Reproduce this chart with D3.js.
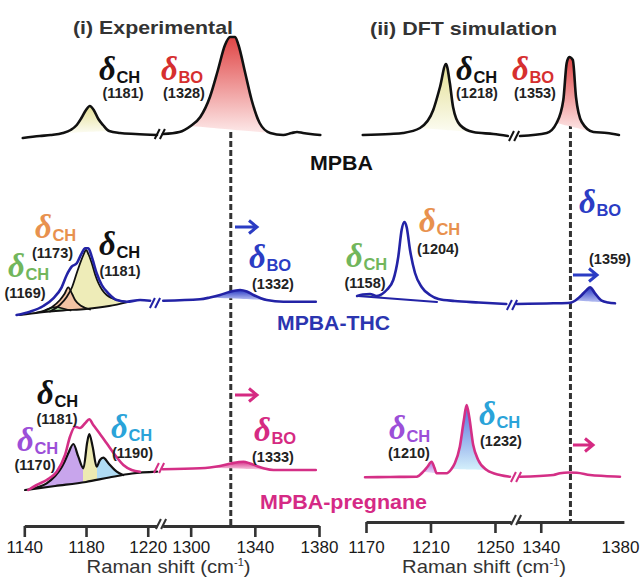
<!DOCTYPE html>
<html><head><meta charset="utf-8">
<script src="https://cdn.jsdelivr.net/npm/d3@7"></script>
<style>body{margin:0;background:#fff}svg{display:block}</style>
</head><body>
<svg id="c" width="640" height="581"></svg>
<script>
// ================= DATA =================
const leftTicksLow = [1140, 1180, 1220];
const leftTicksHigh = [1300, 1340, 1380];
const rightTicksLow = [1170, 1210, 1250];
const rightTicksHigh = [1340, 1380];
const markerExp = 1325;   // dashed reference line, experimental
const markerDft = 1355;   // dashed reference line, DFT

// spectra: [Raman shift (cm-1), intensity (a.u., relative to row baseline)]
// Row 1: MPBA
const mpbaExpLow = [[1139,-2],[1150,0],[1157,1],[1165,3],[1170,6],[1174,11],[1177,18],[1180,26],[1182.5,30],[1185,26],[1188,17],[1191,11],[1195,5],[1202,3],[1212,2],[1226,1]];
const mpbaExpHigh = [[1282.7,2],[1293,4],[1300,10],[1306,19],[1312,39],[1317,66],[1321.4,91],[1324.6,99],[1327.7,99],[1329.8,91],[1334,63],[1338,36],[1343,13],[1349.6,3],[1357.7,1],[1363,3],[1366.3,4],[1370,3],[1374.6,2],[1380.8,1]];
const mpbaDftLow = [[1168,1],[1185,2],[1193,3],[1203.5,8],[1211.7,26],[1215.9,49],[1219.6,72],[1222,53],[1224,29],[1228.3,11],[1236.5,4],[1249,2],[1258,0]];
const mpbaDftHigh = [[1329.5,0],[1343,3],[1348,13],[1351.4,36],[1353.1,73],[1354.4,79],[1356.2,76],[1357.8,39],[1360.7,14],[1366.6,4],[1373.4,3],[1379.5,1]];

// Row 2: MPBA-THC
const thcExpLow = [[1135,-13],[1143.7,-9.7],[1152.3,-4],[1158.8,3.7],[1164.2,14.7],[1167.5,27],[1170.7,35.3],[1174,38.7],[1177.2,48.7],[1179.4,53.7],[1181.5,53.7],[1183.7,45.3],[1186.9,28.7],[1190.2,17],[1194.5,8.7],[1199.9,2],[1206.4,0.3],[1215,2],[1221.5,1.3]];
const thcExpHigh = [[1282.9,1.3],[1305.8,2.7],[1312,4.5],[1318.3,7],[1324,10],[1330.8,12],[1335,10.5],[1339.1,7],[1347.4,2],[1357.8,0.3],[1378,0.3]];
const thcExpFitBase = [[1137,-13],[1150,-10.5],[1165,-8.5],[1180,-7],[1195,-4],[1207,0]];
const thcExpFit1169 = [[1148,-10.5],[1153,-8.5],[1157,-6],[1161,-5],[1165,-6.5],[1170,-8.5]];
const thcExpFit1173 = [[1152.3,-9.5],[1158,-5],[1163.1,2],[1166,8],[1168.5,14.7],[1171,8],[1172.9,2],[1177,-4],[1182.6,-7.5]];
const thcExpFit1181 = [[1156.7,-9.5],[1163,-3],[1167.5,5],[1171,15],[1174,29],[1176.5,40],[1178.3,47],[1180,52],[1181.8,47],[1183.7,39],[1186,27],[1188,19],[1190.5,12],[1193.4,7],[1196.5,4],[1199.9,2],[1206.4,0]];
const thcDftLow = [[1164.5,6],[1168,7.5],[1172.5,8],[1176.6,6],[1180,8],[1182.8,12],[1186.9,22],[1190,45],[1192.1,72],[1193.8,80],[1195.2,75],[1197.3,52],[1200.4,29],[1204.5,15],[1209.7,7],[1215,3],[1225,1],[1240,-0.5],[1257,-2]];
const thcDftFitBase = [[1165,6],[1214,0]];
const thcDftHigh = [[1328,-2],[1346.4,-1.3],[1354.8,-0.7],[1357.5,1.5],[1359.8,5.3],[1363.2,12],[1364.9,14.7],[1367.4,8.7],[1370.8,1.3],[1374,-0.5],[1377.5,-1.3]];

// Row 3: MPBA-pregnane
const pregExpLow = [[1142.6,-18],[1148,-13],[1154.5,-8],[1161,0.3],[1166.4,17],[1169.6,35.3],[1172.9,45.3],[1176.1,44],[1179.4,48.7],[1182.1,52.7],[1184.7,47],[1188,40.3],[1193.4,28.7],[1198.8,17],[1204.2,7],[1209.6,2],[1215,0.3]];
const pregExpFitBase = [[1140.5,-18],[1160,-14],[1180,-10],[1195,-5.5],[1210,-1.5],[1226,0.3]];
const pregExpFit = [[1145,-16.5],[1154.5,-11.3],[1160,-4],[1163.1,2],[1166,10],[1168.5,18.7],[1171.8,28],[1175,15.3],[1178.3,3.7],[1180.8,30],[1182.1,38],[1184.3,25.3],[1186.9,5.3],[1189,12],[1191.2,14.3],[1194.5,8.7],[1199.9,0.3],[1204,-3]];
const pregExpFitSplits = [1178.3, 1186.9];
const pregExpHigh = [[1282.6,2.7],[1305.8,3.7],[1312,4.5],[1318.3,6],[1325,8.5],[1332.9,10.3],[1337,8.5],[1341.2,6],[1346,3.5],[1351.6,2],[1378,2]];
const pregDftLow = [[1169.4,-5.3],[1185,-5],[1201.4,-4.7],[1205.5,0.3],[1208,5],[1210.7,10.3],[1212.5,4],[1213.8,-1.3],[1220,-1.3],[1223,3],[1225.1,8.7],[1228.2,25.3],[1230.7,52],[1232.4,67],[1234,55.3],[1236.5,27],[1239.6,12],[1244.9,2],[1253.1,-3],[1259.3,-4.7]];
const pregDftHigh = [[1329.5,-4.7],[1346.4,-3],[1349.7,-1.3],[1354,-0.5],[1358.2,-0.7],[1364.9,-3],[1372,-4],[1380,-4.7]];

const sampleNames = ["MPBA", "MPBA-THC", "MPBA-pregnane"];
const panelTitles = ["(i) Experimental", "(ii) DFT simulation"];
const axisTitle = "Raman shift (cm";

// annotations (text content)
const annotations = [
  {sub:"CH", num:"(1181)", c:"black"}, {sub:"BO", num:"(1328)", c:"red"},
  {sub:"CH", num:"(1218)", c:"black"}, {sub:"BO", num:"(1353)", c:"red"},
  {sub:"CH", num:"(1173)", c:"orange"}, {sub:"CH", num:"(1169)", c:"green"},
  {sub:"CH", num:"(1181)", c:"black"}, {sub:"BO", num:"(1332)", c:"blue"},
  {sub:"CH", num:"(1158)", c:"green"}, {sub:"CH", num:"(1204)", c:"orange"},
  {sub:"BO", num:"(1359)", c:"blue"},
  {sub:"CH", num:"(1181)", c:"black"}, {sub:"CH", num:"(1170)", c:"purple"},
  {sub:"CH", num:"(1190)", c:"cyan"}, {sub:"BO", num:"(1333)", c:"pink"},
  {sub:"CH", num:"(1210)", c:"purple"}, {sub:"CH", num:"(1232)", c:"cyan"}
];

// ================= LAYOUT / STYLE =================
const COL = {black:"#111", red:"#d62f2f", orange:"#e8914e", green:"#72b65c", blue:"#2b3cc4",
  purple:"#9c4fd8", cyan:"#2aa3d9", pink:"#d52a82", line:"#333"};
const BLUE_LINE = "#2323a6", PINK_LINE = "#d42f86";
const SANS = "'Liberation Sans', Arial, Helvetica, sans-serif";
const SERIF = "'Liberation Serif', 'Times New Roman', serif";
// annotation placement (pixels): delta left/baseline, number centre/baseline
const annoPos = [
  [99,80,123,98],[161,80,184,98],[456,80,477,98],[512,80,535,98],
  [35,238,52.5,258],[8,277,25,298],[99,255,120,276],[249,268,273,289],
  [346,267,365,288],[419,232,438,254],[579,213,610,264],
  [37,404,57,424],[17,451,35,470],[111,438,132.5,458],[254,441,273,462],
  [389,439,409,458],[479,425,501,446]
];
const rowBase = [136, 302, 472];

const svg = d3.select("#c");
const defs = svg.append("defs");
function vgrad(id, top, bottom){
  const g = defs.append("linearGradient").attr("id", id).attr("x1",0).attr("y1",0).attr("x2",0).attr("y2",1);
  g.append("stop").attr("offset","0%").attr("stop-color", top);
  g.append("stop").attr("offset","100%").attr("stop-color", bottom);
}
vgrad("gYellow", "#e4df95", "#fcfcf2");
vgrad("gRed", "#e04545", "#fde9e9");
vgrad("gBlue", "#2a3bc6", "#bcc4f2");
vgrad("gPink", "#d8328a", "#f8d3e5");
vgrad("gPurple", "#b070e0", "#eadcf7");
vgrad("gCyan", "#5570dc", "#d4f0fb");
vgrad("gGreen", "#8fcc7f", "#e3f3dd");

// scales
const xL1 = d3.scaleLinear().domain([1140, 1226]).range([24.3, 157.0]);
const xL2 = d3.scaleLinear().domain([1282.5, 1380]).range([162.6, 319]);
const xR1 = d3.scaleLinear().domain([1170, 1260]).range([366, 511.1]);
const xR2 = d3.scaleLinear().domain([1328, 1382]).range([517, 623.9]);
const y = d3.scaleLinear().domain([0, 100]).range([0, -100]);

function interp(pts, w){
  if (w <= pts[0][0]) return pts[0][1];
  for (let i=1;i<pts.length;i++){
    if (w <= pts[i][0]){
      const [a,b]=[pts[i-1],pts[i]];
      return a[1] + (b[1]-a[1])*(w-a[0])/(b[0]-a[0]);
    }
  }
  return pts[pts.length-1][1];
}
function lineGen(x){ return d3.line().x(d=>x(d[0])).y(d=>y(d[1])).curve(d3.curveMonotoneX); }
function drawLine(g, x, pts, color, w){
  g.append("path").attr("d", lineGen(x)(pts)).attr("fill","none").attr("stroke",color)
   .attr("stroke-width",w).attr("stroke-linejoin","round").attr("stroke-linecap","round");
}
// fill between curve and a chord (or given base) within [lo,hi]
function fillUnder(g, x, pts, lo, hi, fill, base){
  const sub = pts.filter(d=>d[0]>=lo && d[0]<=hi);
  const a = sub[0], b = sub[sub.length-1];
  const chord = base || [a,b];
  const area = d3.area().x(d=>x(d[0])).y1(d=>y(d[1])).y0(d=>y(interp(chord,d[0]))).curve(d3.curveMonotoneX);
  g.append("path").attr("d", area(sub)).attr("fill", fill).attr("stroke","none");
}
function drawBreak(cx, cy, color){
  [-2.6, 2.6].forEach(o=>{
    svg.append("line").attr("x1",cx+o-2.5).attr("y1",cy+5).attr("x2",cx+o+2.5).attr("y2",cy-5)
      .attr("stroke",color).attr("stroke-width",2);
  });
}

// dashed reference lines
svg.append("line").attr("x1",xL2(markerExp)).attr("x2",xL2(markerExp)).attr("y1",60).attr("y2",526)
  .attr("stroke",COL.line).attr("stroke-width",3).attr("stroke-dasharray","6,3");
svg.append("line").attr("x1",xR2(markerDft)).attr("x2",xR2(markerDft)).attr("y1",60).attr("y2",522)
  .attr("stroke",COL.line).attr("stroke-width",3).attr("stroke-dasharray","6,3");

// ---------- Row 1 ----------
let g = svg.append("g").attr("transform",`translate(0,${rowBase[0]})`);
fillUnder(g, xL1, mpbaExpLow, 1165, 1200, "url(#gYellow)");
fillUnder(g, xL2, mpbaExpHigh, 1300, 1350, "url(#gRed)");
fillUnder(g, xR1, mpbaDftLow, 1203, 1237, "url(#gYellow)");
fillUnder(g, xR2, mpbaDftHigh, 1346, 1367, "url(#gRed)");
drawLine(g, xL1, mpbaExpLow, COL.black, 2.6);
drawLine(g, xL2, mpbaExpHigh, COL.black, 2.6);
drawLine(g, xR1, mpbaDftLow, COL.black, 2.6);
drawLine(g, xR2, mpbaDftHigh, COL.black, 2.6);

// ---------- Row 2 ----------
g = svg.append("g").attr("transform",`translate(0,${rowBase[1]})`);
[[thcExpFit1181,"#eeecb8"],[thcExpFit1173,"#f2c3a4"],[thcExpFit1169,"#a8d79b"]].forEach(([pts,c])=>{
  fillUnder(g, xL1, pts, pts[0][0], pts[pts.length-1][0], c, thcExpFitBase);
});
drawLine(g, xL1, thcExpFitBase, COL.black, 1.8);
drawLine(g, xL1, thcExpFit1169, COL.black, 1.6);
drawLine(g, xL1, thcExpFit1173, COL.black, 1.8);
drawLine(g, xL1, thcExpFit1181, COL.black, 1.8);
drawLine(g, xL1, thcExpLow, BLUE_LINE, 2.6);
fillUnder(g, xL2, thcExpHigh, 1312, 1347.4, "url(#gBlue)");
drawLine(g, xL2, thcExpHigh, BLUE_LINE, 2.6);
fillUnder(g, xR1, thcDftLow, 1164.5, 1180, "url(#gGreen)", thcDftFitBase);
drawLine(g, xR1, thcDftFitBase, BLUE_LINE, 2.2);
drawLine(g, xR1, thcDftLow, BLUE_LINE, 2.6);
fillUnder(g, xR2, thcDftHigh, 1357.5, 1374, "url(#gBlue)");
drawLine(g, xR2, thcDftHigh, BLUE_LINE, 2.6);

// ---------- Row 3 ----------
g = svg.append("g").attr("transform",`translate(0,${rowBase[2]})`);
const hg = defs.append("linearGradient").attr("id","gComp").attr("gradientUnits","userSpaceOnUse")
  .attr("x1",xL1(1140)).attr("x2",xL1(1226)).attr("y1",0).attr("y2",0);
const s1 = (xL1(pregExpFitSplits[0])-xL1(1140))/(xL1(1226)-xL1(1140))*100;
const s2 = (xL1(pregExpFitSplits[1])-xL1(1140))/(xL1(1226)-xL1(1140))*100;
[[0,"#c8a5ec"],[s1,"#c8a5ec"],[s1,"#edeab2"],[s2,"#edeab2"],[s2,"#b0dcf4"],[100,"#b0dcf4"]].forEach(([o,c])=>{
  hg.append("stop").attr("offset",o+"%").attr("stop-color",c);
});
fillUnder(g, xL1, pregExpFit, 1145, 1204, "url(#gComp)", pregExpFitBase);
drawLine(g, xL1, pregExpFitBase, COL.black, 2.2);
drawLine(g, xL1, pregExpFit, COL.black, 2.2);
drawLine(g, xL1, pregExpLow, PINK_LINE, 2.6);
fillUnder(g, xL2, pregExpHigh, 1312, 1351.6, "url(#gPink)");
drawLine(g, xL2, pregExpHigh, PINK_LINE, 2.6);
fillUnder(g, xR1, pregDftLow, 1205.5, 1213.8, "url(#gPurple)");
fillUnder(g, xR1, pregDftLow, 1223, 1244.9, "url(#gCyan)");
drawLine(g, xR1, pregDftLow, PINK_LINE, 2.6);
drawLine(g, xR2, pregDftHigh, PINK_LINE, 2.6);

// break marks on spectra
drawBreak((xL1(1226)+xL2(1282.5))/2, 134, COL.black);
drawBreak((xR1(1260)+xR2(1328))/2, 136, COL.black);
drawBreak(155, 303, BLUE_LINE);
drawBreak(512, 305, BLUE_LINE);
drawBreak(159, 468, PINK_LINE);
drawBreak(516, 477, PINK_LINE);

// ---------- Axes ----------
function styleAxis(ax){
  ax.attr("font-size", null).attr("font-family", null);
  ax.selectAll("path.domain").attr("stroke",COL.line).attr("stroke-width",2.8);
  ax.selectAll(".tick line").attr("stroke",COL.line).attr("stroke-width",2.6);
  ax.selectAll(".tick text").style("font-family",SANS).style("font-size","17px").attr("fill","#1a1a1a");
}
function axis(scale, ticks, yPos, pad){
  const a = svg.append("g").attr("transform",`translate(0,${yPos})`)
    .call(d3.axisBottom(scale).tickValues(ticks).tickSize(11).tickSizeOuter(0).tickPadding(pad).tickFormat(d3.format("d")));
  styleAxis(a); return a;
}
axis(xL1, leftTicksLow, 526, 4);
axis(xL2, leftTicksHigh, 526, 4);
axis(xR1, rightTicksLow, 522, 8);
const ar2 = axis(xR2, rightTicksHigh, 522, 8);
ar2.selectAll(".tick").filter(d=>d===1380).select("line").remove();
drawBreak(161, 524, COL.line);
drawBreak(516, 520, COL.line);

[[168.5],[484]].forEach(([cx])=>{
  const t = svg.append("text").attr("x",cx).attr("y",573).attr("text-anchor","middle")
    .attr("font-family",SANS).attr("font-size",18.5).attr("fill","#333")
    .attr("textLength",164).attr("lengthAdjust","spacingAndGlyphs");
  t.append("tspan").text(axisTitle);
  t.append("tspan").text("-1").attr("font-size",10).attr("dy",-7);
  t.append("tspan").text(")").attr("dy",7);
});

// ---------- Titles & sample names ----------
[[panelTitles[0],153,34,160],[panelTitles[1],463.5,35,187]].forEach(([s,cx,yy,w])=>{
  svg.append("text").attr("x",cx).attr("y",yy).attr("text-anchor","middle").attr("font-family",SANS)
    .attr("font-weight","bold").attr("font-size",19).attr("fill","#333")
    .attr("textLength",w).attr("lengthAdjust","spacingAndGlyphs").text(s);
});
[[sampleNames[0],341.5,170,63,"#111"],[sampleNames[1],333.5,330,113,"#2b35b0"],[sampleNames[2],343.5,509,167,"#d52a85"]]
  .forEach(([s,cx,yy,w,c])=>{
  svg.append("text").attr("x",cx).attr("y",yy).attr("text-anchor","middle").attr("font-family",SANS)
    .attr("font-weight","bold").attr("font-size",21).attr("fill",c)
    .attr("textLength",w).attr("lengthAdjust","spacingAndGlyphs").text(s);
});

// ---------- Peak annotations ----------
annotations.forEach((a,i)=>{
  const [dx,dy,nx,ny] = annoPos[i];
  const col = COL[a.c];
  const t = svg.append("text").attr("x",dx).attr("y",dy).attr("fill",col);
  t.append("tspan").text("δ").attr("font-family",SERIF).attr("font-style","italic")
    .attr("font-weight","bold").attr("font-size",33);
  t.append("tspan").text(a.sub).attr("font-family",SANS).attr("font-weight","bold")
    .attr("font-size",16.5).attr("dy",3).attr("dx",0.5);
  svg.append("text").attr("x",nx).attr("y",ny).attr("text-anchor","middle").attr("font-family",SANS)
    .attr("font-weight","bold").attr("font-size",14.5).attr("fill","#222").text(a.num);
});

// ---------- Shift arrows ----------
[[235,257,227,COL.blue],[235,257,395,COL.pink],[573,597,275,COL.blue],[573,593,445,COL.pink]]
  .forEach(([x0,x1,yy,c])=>{
  svg.append("path").attr("d",`M${x0},${yy}H${x1-1}M${x1-8},${yy-6.5}L${x1},${yy}L${x1-8},${yy+6.5}`)
    .attr("fill","none").attr("stroke",c).attr("stroke-width",3).attr("stroke-linejoin","miter");
});
</script>
</body></html>
